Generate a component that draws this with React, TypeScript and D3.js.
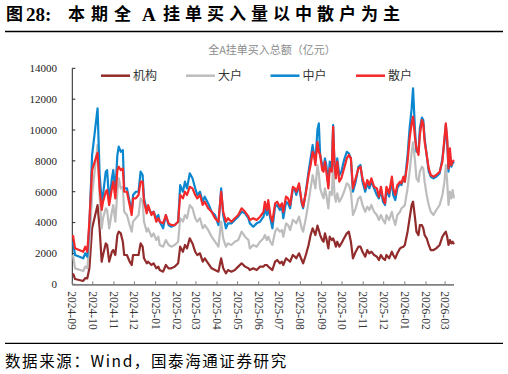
import React from 'react';
import * as d3 from 'd3';

const dates: string[] = [
  "2024-09-02","2024-09-05","2024-09-17","2024-09-20","2024-09-23","2024-09-26","2024-09-30","2024-10-08","2024-10-11","2024-10-14",
  "2024-10-16","2024-10-20","2024-10-22","2024-10-25","2024-10-29","2024-10-31","2024-11-03","2024-11-06","2024-11-08","2024-11-11",
  "2024-11-14","2024-11-16","2024-11-20","2024-11-24","2024-11-27","2024-11-29","2024-12-03","2024-12-07","2024-12-10","2024-12-13",
  "2024-12-15","2024-12-19","2024-12-21","2024-12-26","2024-12-29","2025-01-02","2025-01-05","2025-01-07","2025-01-12","2025-01-16",
  "2025-01-20","2025-01-24","2025-01-29","2025-02-03","2025-02-06","2025-02-10","2025-02-13","2025-02-16","2025-02-20","2025-02-24",
  "2025-02-28","2025-03-03","2025-03-07","2025-03-11","2025-03-14","2025-03-19","2025-03-24","2025-03-29","2025-04-03","2025-04-07",
  "2025-04-10","2025-04-14","2025-04-17","2025-04-22","2025-04-27","2025-05-02","2025-05-07","2025-05-12","2025-05-17",
  "2025-05-19","2025-05-24","2025-05-29","2025-06-03","2025-06-08","2025-06-10","2025-06-13","2025-06-15","2025-06-18","2025-06-21",
  "2025-06-25","2025-06-28","2025-07-02","2025-07-05","2025-07-07","2025-07-11","2025-07-14","2025-07-17","2025-07-21","2025-07-24",
  "2025-07-26","2025-07-30","2025-08-03","2025-08-05","2025-08-09","2025-08-13","2025-08-16","2025-08-19","2025-08-21","2025-08-23",
  "2025-08-26","2025-08-28","2025-08-30","2025-09-02","2025-09-04","2025-09-06","2025-09-08","2025-09-11","2025-09-13","2025-09-16",
  "2025-09-18","2025-09-20","2025-09-22","2025-09-24","2025-09-27","2025-09-30","2025-10-04","2025-10-08","2025-10-11","2025-10-14",
  "2025-10-17","2025-10-21","2025-10-25","2025-10-28","2025-10-31","2025-11-04","2025-11-07","2025-11-10","2025-11-13","2025-11-17",
  "2025-11-21","2025-11-24","2025-11-27","2025-11-30","2025-12-03","2025-12-05","2025-12-09","2025-12-13","2025-12-15","2025-12-18",
  "2025-12-21","2025-12-25","2025-12-27","2025-12-30","2026-01-01","2026-01-05","2026-01-08","2026-01-11","2026-01-13","2026-01-16",
  "2026-01-18","2026-01-21","2026-01-23","2026-01-26","2026-01-28","2026-01-30","2026-02-02","2026-02-05","2026-02-08","2026-02-12",
  "2026-02-16","2026-02-21","2026-02-25","2026-02-28","2026-03-02","2026-03-04","2026-03-06","2026-03-08","2026-03-10","2026-03-12",
  "2026-03-14"
];

// 机构
const institution: number[] = [
  710,345,215,400,390,1035,3630,5140,3630,1465,
  1900,2650,2550,1465,2110,2220,1900,3190,3410,3300,
  2760,1900,1900,1465,1250,1900,1900,1900,2650,2440,
  1685,1360,1465,1250,1360,1035,1145,925,820,1250,
  1035,1035,1145,1360,2440,2110,2550,2330,2980,2650,
  2110,1900,2010,1465,1685,1360,1035,925,820,1685,
  1035,710,925,820,925,1145,1360,1145,1035,
  925,1035,925,1145,1145,1250,1250,1145,1035,925,
  1465,1575,1360,1465,1250,1685,1575,1465,1900,1790,
  1685,2010,1575,1360,1900,2550,3190,3630,3410,3190,
  3800,3520,3190,2870,2760,3300,2980,2330,3085,2870,
  2980,2760,2440,2760,2440,2650,2980,3300,3410,2760,
  1685,2110,2440,2440,2110,1790,2220,2010,2110,1900,
  1790,1575,1900,1685,1575,1900,1685,2110,1900,1685,
  2010,2330,2380,2440,2550,3410,4280,5140,5350,4280,
  3410,3190,3840,3840,3630,3190,2980,2550,2220,2220,
  2330,2550,3085,3300,3410,3085,2550,2870,2650,2760,
  2600
];

// 大户
const large: number[] = [
  1900,1035,860,1150,1035,2550,5790,9030,5790,3630,
  4280,4925,4815,3630,4700,5140,4060,6000,6870,6220,
  6320,4700,4490,3840,3410,4060,4280,4490,5570,5350,
  4060,3410,3630,3085,3300,2870,3085,2550,2440,2870,
  2550,2440,2550,2760,4280,4060,4490,4280,5140,4925,
  4280,4060,4280,3630,3840,3520,3085,2760,2440,4060,
  2980,2440,2650,2550,2760,2870,3410,3085,2870,
  2330,2550,2440,2760,2980,3200,2870,3085,2760,2550,
  3410,3630,3410,3520,3085,3950,3840,3520,4170,4060,
  3950,4380,3630,3410,4280,5350,6220,7080,6650,6220,
  7730,7190,6220,5790,5570,6220,5790,4925,6000,5790,
  7730,5790,5350,5900,5350,5570,6000,6545,6430,6000,
  4490,4925,5570,5680,5140,4700,5030,4815,5140,4700,
  4490,4170,4490,4170,3950,4490,4170,4700,4280,3840,
  4490,4700,4925,5030,5140,6220,7300,8590,9200,7950,
  6870,6650,7300,7620,7510,6650,5790,5140,4700,4490,
  4815,5140,5790,6650,7730,6650,5140,6000,5570,6110,
  5570
];

// 中户
const medium: number[] = [
  2760,1900,1685,2010,1790,3840,8380,11400,7150,5350,
  5790,7300,7400,5350,6870,7400,6000,8380,8920,8590,
  8700,6220,6220,5350,4700,5790,6000,6000,7300,7080,
  5570,4815,4925,4600,4700,4280,4490,4060,3630,4490,
  3840,3730,3840,4060,6430,6000,6650,6220,7190,6870,
  6220,5790,6000,5350,5680,5240,4700,4490,3840,6220,
  4490,3630,3950,3950,4170,4380,4700,4600,4280,
  3950,3730,3950,4060,4380,4925,4490,4925,4280,3630,
  5030,5140,4815,5030,4280,5350,5250,4925,6220,6110,
  5790,6430,5250,4925,6000,7300,8160,9030,8380,7950,
  10000,10430,8380,7730,7510,8160,7730,6430,7950,7510,
  10320,7730,7080,8160,7080,7300,8050,8590,8490,8160,
  6000,6650,7620,7730,6650,6000,6545,6220,6650,6220,
  5790,5570,6110,5350,5140,6110,5680,6760,5790,5460,
  6220,6545,6430,6870,6650,8380,10110,11400,12700,9890,
  8590,8590,10110,10800,10650,9460,8380,7300,6975,6870,
  6975,7190,8160,9240,10320,9240,7300,8380,7620,7840,
  7950
];

// 散户
const retail: number[] = [
  3190,2330,2110,2440,2110,4060,7400,8530,6220,4815,
  5350,6000,6110,5140,6220,6650,5570,7400,7620,7400,
  7510,6000,6000,5140,4490,5570,5570,5790,6650,6650,
  5350,4600,5140,4490,4700,4060,4280,4060,3950,4490,
  3950,3840,3840,4060,5790,5570,6000,5790,6320,6220,
  5790,5570,5790,5140,5350,4925,4700,4280,4060,6000,
  4700,4060,4280,4060,4280,4490,4925,4700,4380,
  4170,4280,4170,4380,4700,5350,4815,5460,4490,4060,
  5250,5350,5030,5250,4700,5680,5570,5140,6320,6220,
  6000,6545,5350,5030,5900,7080,7730,8590,8380,7730,
  9240,8590,8380,7400,7300,7950,7300,6220,7510,7300,
  10210,7730,6870,7950,6650,6870,7510,8160,8380,8160,
  6220,6870,7510,7620,6870,6220,6760,6430,6870,6320,
  6220,5680,6320,5570,5250,6320,5900,6975,6220,5790,
  6430,6650,6545,6975,6650,7950,9460,10430,10870,9460,
  8810,8380,9670,10650,10430,9240,8380,7510,7080,6975,
  7080,7300,7950,9460,10430,9460,7510,8810,7730,7950,
  8050
];

const seriesNames = ["机构", "大户", "中户", "散户"];
const seriesColors = ["#922B2B", "#BDBDBD", "#0B87D0", "#F5282A"];
const yTicks = [0, 2000, 4000, 6000, 8000, 10000, 12000, 14000];
const domainStart = "2024-09-01";
const domainEnd = "2026-03-14";
const chartTitle = "全A挂单买入总额（亿元）";
const sourceText = "数据来源：Wind，国泰海通证券研究";

const W = 508, H = 374;
const plot = { left: 72.3, right: 454, top: 68.3, bottom: 284.3 };

export default function App() {
  const parse = d3.timeParse("%Y-%m-%d");
  const parsed = dates.map(d => parse(d) as Date);
  const x = d3.scaleTime()
    .domain([parse(domainStart) as Date, parse(domainEnd) as Date])
    .range([plot.left, plot.right]);
  const y = d3.scaleLinear().domain([0, 14000]).range([plot.bottom, plot.top]);
  const months = d3.timeMonth.range(parse("2024-09-01") as Date, parse("2026-03-02") as Date);
  const fmt = d3.timeFormat("%Y-%m");
  const all = [institution, large, medium, retail];
  const line = d3.line<number>()
    .x((_, i) => x(parsed[i]))
    .y(v => y(v));

  const serif = "'Liberation Serif', 'Times New Roman', 'Noto Sans CJK SC', serif";
  const cjk = "'Noto Sans CJK SC', 'Liberation Serif', sans-serif";
  const legendX = [101, 186, 270.5, 356];
  const titleRest = "挂单买入量以中散户为主";

  return (
    <svg width={W} height={H} style={{ position: 'absolute', left: 0, top: 0, background: '#fff' }}>
      <rect width={W} height={H} fill="#fff" />
      {/* Title */}
      <text x={6} y={20} fontFamily={cjk} fontWeight="bold" fontSize={17} fill="#000">图</text>
      <text x={26} y={21} fontFamily={serif} fontWeight="bold" fontSize={19} fill="#000">28:</text>
      <text x={68} y={20} fontFamily={cjk} fontWeight="bold" fontSize={17} letterSpacing={6} fill="#000">本期全</text>
      <text x={142} y={21} fontFamily={serif} fontWeight="bold" fontSize={19} fill="#000">A</text>
      <text x={163} y={20} fontFamily={cjk} fontWeight="bold" fontSize={17} letterSpacing={5} fill="#000">{titleRest}</text>
      <line x1={5} x2={503} y1={31.5} y2={31.5} stroke="#000" strokeWidth={1.3} />

      {/* chart title */}
      <text x={272} y={54} textAnchor="middle" fontFamily={cjk} fontSize={11} fill="#8c8c8c">{chartTitle}</text>

      {/* Legend */}
      {seriesNames.map((n, i) => (
        <g key={n}>
          <line x1={legendX[i]} x2={legendX[i] + 29} y1={75.7} y2={75.7} stroke={seriesColors[i]} strokeWidth={2.5} />
          <text x={legendX[i] + 32} y={80} fontFamily={cjk} fontSize={12} fill="#333">{n}</text>
        </g>
      ))}

      {/* Y axis */}
      <line x1={plot.left} x2={plot.left} y1={plot.top} y2={plot.bottom} stroke="#222" strokeWidth={1} />
      {yTicks.map(t => (
        <g key={t}>
          <line x1={plot.left} x2={plot.left + 3} y1={y(t)} y2={y(t)} stroke="#222" strokeWidth={1} />
          <text x={57} y={y(t)} dy="0.35em" textAnchor="end" fontFamily={serif} fontSize={11} fill="#222">{t}</text>
        </g>
      ))}

      {/* Lines */}
      {all.map((s, i) => (
        <path key={i} d={line(s) || ''} fill="none" stroke={seriesColors[i]} strokeWidth={2.2} strokeLinejoin="round" />
      ))}

      {/* X axis */}
      <line x1={plot.left} x2={plot.right} y1={plot.bottom + 0.5} y2={plot.bottom + 0.5} stroke="#808080" strokeWidth={1.8} />
      {months.map(m => (
        <g key={+m}>
          <line x1={x(m)} x2={x(m)} y1={plot.bottom} y2={plot.bottom - 3} stroke="#808080" strokeWidth={1} />
          <text transform={`translate(${x(m)},${plot.bottom + 7}) rotate(90)`} dy="0.35em" fontFamily={serif} fontSize={11.5} fill="#333">{fmt(m)}</text>
        </g>
      ))}

      {/* Bottom */}
      <line x1={5} x2={503} y1={343.3} y2={343.3} stroke="#000" strokeWidth={1.3} />
      <text x={5} y={367} fontFamily={cjk} fontSize={15.5} letterSpacing={1.6} fill="#000">{sourceText}</text>
    </svg>
  );
}
